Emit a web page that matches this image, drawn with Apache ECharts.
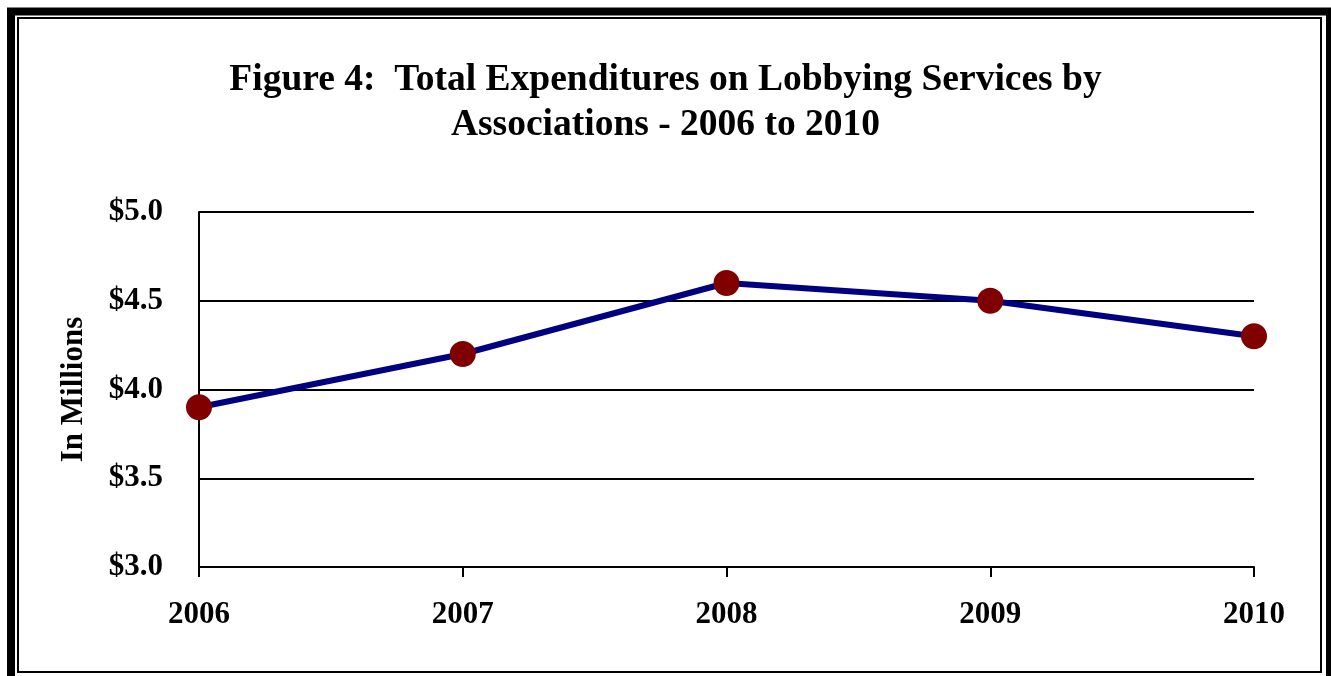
<!DOCTYPE html>
<html>
<head>
<meta charset="utf-8">
<script src="https://cdn.jsdelivr.net/npm/echarts@6/dist/echarts.min.js"></script>
<style>html,body{margin:0;padding:0;background:#fff;}#c{width:1331px;height:676px;}</style>
</head>
<body>
<div id="c"></div>
<script>
var categories = ['2006', '2007', '2008', '2009', '2010'];
var values = [3.9, 4.2, 4.6, 4.5, 4.3];
var yTicks = {min: 3.0, max: 5.0, interval: 0.5};
var titleText = 'Figure 4:  Total Expenditures on Lobbying Services by\nAssociations - 2006 to 2010';
var yName = 'In Millions';

var serif = '"Liberation Serif", "Times New Roman", serif';
var chart = echarts.init(document.getElementById('c'), null, {renderer: 'canvas'});
chart.setOption({
  backgroundColor: '#fff',
  animation: false,
  title: {
    text: titleText,
    left: 'center',
    top: 53,
    textStyle: {fontFamily: serif, fontWeight: 'bold', fontSize: 37.5, lineHeight: 45, color: '#000'}
  },
  graphic: [
    {type: 'rect', shape: {x: 11, y: 11.5, width: 1319, height: 669}, style: {fill: 'none', stroke: '#000', lineWidth: 8}, silent: true},
    {type: 'rect', shape: {x: 18, y: 18, width: 1303, height: 654}, style: {fill: 'none', stroke: '#000', lineWidth: 2}, silent: true}
  ],
  grid: {left: 199, right: 77, top: 212, bottom: 109},
  xAxis: {
    type: 'category',
    data: categories,
    boundaryGap: false,
    axisLine: {lineStyle: {color: '#000', width: 2}},
    axisTick: {show: true, length: 10, lineStyle: {color: '#000', width: 2}},
    axisLabel: {margin: 32, fontFamily: serif, fontWeight: 'bold', fontSize: 31, color: '#000'}
  },
  yAxis: {
    type: 'value',
    min: yTicks.min, max: yTicks.max, interval: yTicks.interval,
    name: yName,
    nameLocation: 'middle',
    nameGap: 110,
    nameRotate: 90,
    nameTextStyle: {fontFamily: serif, fontWeight: 'bold', fontSize: 31, color: '#000'},
    axisLine: {show: true, lineStyle: {color: '#000', width: 2}},
    axisTick: {show: false},
    splitLine: {lineStyle: {color: '#000', width: 2}},
    axisLabel: {margin: 36, fontFamily: serif, fontWeight: 'bold', fontSize: 31, color: '#000',
      formatter: function (v) { return '$' + v.toFixed(1); }}
  },
  series: [{
    type: 'line',
    data: values,
    lineStyle: {color: '#000080', width: 6},
    itemStyle: {color: '#800000', borderWidth: 0},
    symbol: 'circle',
    symbolSize: 26,
    showSymbol: true
  }]
});
</script>
</body>
</html>
